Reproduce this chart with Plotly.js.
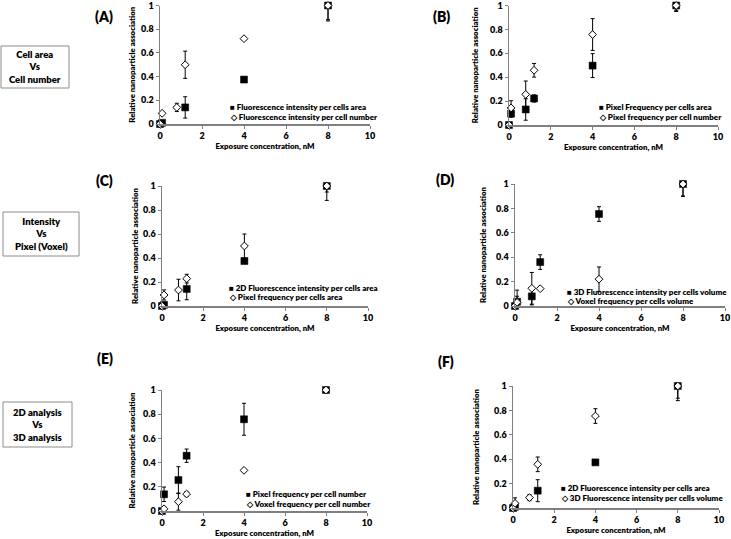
<!DOCTYPE html>
<html>
<head>
<meta charset="utf-8">
<script src="https://cdn.plot.ly/plotly-3.0.1.min.js"></script>
<style>html,body{margin:0;padding:0;background:#fff;}#chart{width:731px;height:539px;}</style>
</head>
<body>
<div id="chart"></div>
<script>
// ---------- DATA ----------
const concentration = [0, 0.1, 0.8, 1.2, 4, 8];
const xTickVals = [0, 2, 4, 6, 8, 10];
const yTickVals = [0, 0.2, 0.4, 0.6, 0.8, 1];
const panelLabels = ["(A)", "(B)", "(C)", "(D)", "(E)", "(F)"];
const rowLabels = ["Cell area<br>Vs<br>Cell number", "Intensity<br>Vs<br>Pixel (Voxel)", "2D analysis<br>Vs<br>3D analysis"];
const xTitle = "Exposure concentration, nM";
const yTitle = "Relative nanoparticle association";

// Panel A
const aSquareName = "Fluorescence intensity per cells area";
const aSquare = [0, 0.01, null, 0.14, 0.375, 1];
const aSquareErrUp = [0, 0, 0, 0.09, 0.01, 0];
const aSquareErrDown = [0, 0, 0, 0.09, 0.01, 0.13];
const aDiamondName = "Fluorescence intensity per cell number";
const aDiamond = [0, 0.09, 0.14, 0.5, 0.72, 1];
const aDiamondErrUp = [0, 0.01, 0.035, 0.115, 0.01, 0];
const aDiamondErrDown = [0, 0.01, 0.035, 0.115, 0.01, 0.12];

// Panel B
const bSquareName = "Pixel Frequency per cells area";
const bSquare = [0, 0.095, 0.13, 0.222, 0.497, 1];
const bSquareErrUp = [0, 0.03, 0.09, 0.03, 0.1, 0];
const bSquareErrDown = [0, 0.03, 0.09, 0.03, 0.1, 0.05];
const bDiamondName = "Pixel frequency per cell number";
const bDiamond = [0, 0.143, 0.256, 0.458, 0.757, 1];
const bDiamondErrUp = [0, 0.06, 0.112, 0.057, 0.133, 0];
const bDiamondErrDown = [0, 0.06, 0.112, 0.057, 0.133, 0.04];

// Panel C
const cSquareName = "2D Fluorescence intensity per cells area";
const cSquare = [0, 0.01, null, 0.142, 0.375, 1];
const cSquareErrUp = [0, 0, 0, 0.09, 0.01, 0];
const cSquareErrDown = [0, 0, 0, 0.09, 0.01, 0.12];
const cDiamondName = "Pixel frequency per cells area";
const cDiamond = [0, 0.092, 0.133, 0.228, 0.5, 1];
const cDiamondErrUp = [0, 0.042, 0.09, 0.036, 0.1, 0];
const cDiamondErrDown = [0, 0.042, 0.09, 0.036, 0.1, 0.05];

// Panel D
const dSquareName = "3D Fluorescence intensity per cells volume";
const dSquare = [0, 0.035, 0.079, 0.36, 0.754, 1];
const dSquareErrUp = [0, 0.045, 0.07, 0.06, 0.06, 0];
const dSquareErrDown = [0, 0.035, 0.07, 0.06, 0.06, 0.1];
const dDiamondName = "Voxel frequency per cells volume";
const dDiamond = [0, 0.03, 0.145, 0.142, 0.22, 1];
const dDiamondErrUp = [0, 0.1, 0.13, 0.005, 0.1, 0];
const dDiamondErrDown = [0, 0.03, 0.13, 0.005, 0.1, 0.1];

// Panel E
const eSquareName = "Pixel frequency per cell number";
const eSquare = [0, 0.138, 0.256, 0.457, 0.758, 1];
const eSquareErrUp = [0, 0.06, 0.11, 0.055, 0.132, 0];
const eSquareErrDown = [0, 0.06, 0.11, 0.055, 0.132, 0.02];
const eDiamondName = "Voxel frequency per cell number";
const eDiamond = [0, 0.018, 0.077, 0.14, 0.336, 1];
const eDiamondErrUp = [0, 0.005, 0.07, 0.02, 0.005, 0];
const eDiamondErrDown = [0, 0.005, 0.07, 0.02, 0.005, 0.02];

// Panel F
const fSquareName = "2D Fluorescence intensity per cells area";
const fSquare = [0, 0.01, null, 0.142, 0.374, 1];
const fSquareErrUp = [0, 0, 0, 0.09, 0.01, 0];
const fSquareErrDown = [0, 0, 0, 0.09, 0.01, 0.12];
const fDiamondName = "3D Fluorescence intensity per cells volume";
const fDiamond = [0, 0.038, 0.085, 0.358, 0.754, 1];
const fDiamondErrUp = [0, 0.045, 0.025, 0.06, 0.06, 0];
const fDiamondErrDown = [0, 0.038, 0.025, 0.06, 0.06, 0.1];

// ---------- LAYOUT HELPERS ----------
const W = 731, H = 539;
const px = v => v / W;
const py = v => 1 - v / H;
const FONT = "Lato, Liberation Sans, Arial, sans-serif";
const WEIGHT = 800;

const panels = [
  {sq: aSquare, sqU: aSquareErrUp, sqD: aSquareErrDown, sqN: aSquareName,
   di: aDiamond, diU: aDiamondErrUp, diD: aDiamondErrDown, diN: aDiamondName,
   box: [160, 370, 5.5, 124], ytStand: 4, xtStand: 0, leg: [228, 107, 117], lab: [104, 17]},
  {sq: bSquare, sqU: bSquareErrUp, sqD: bSquareErrDown, sqN: bSquareName,
   di: bDiamond, diU: bDiamondErrUp, diD: bDiamondErrDown, diN: bDiamondName,
   box: [509, 718, 5.5, 125], ytStand: 10, xtStand: 1, leg: [597, 107, 117], lab: [441, 17]},
  {sq: cSquare, sqU: cSquareErrUp, sqD: cSquareErrDown, sqN: cSquareName,
   di: cDiamond, diU: cDiamondErrUp, diD: cDiamondErrDown, diN: cDiamondName,
   box: [162, 368, 186, 306], ytStand: 3, xtStand: 2, leg: [227, 288, 297], lab: [104, 181]},
  {sq: dSquare, sqU: dSquareErrUp, sqD: dSquareErrDown, sqN: dSquareName,
   di: dDiamond, diU: dDiamondErrUp, diD: dDiamondErrDown, diN: dDiamondName,
   box: [515, 725, 184, 306], ytStand: 8, xtStand: 3, leg: [565, 292, 301], lab: [445, 179]},
  {sq: eSquare, sqU: eSquareErrUp, sqD: eSquareErrDown, sqN: eSquareName,
   di: eDiamond, diU: eDiamondErrUp, diD: eDiamondErrDown, diN: eDiamondName,
   box: [162, 367, 390, 511], ytStand: 6, xtStand: 3, leg: [244, 494, 504], lab: [105, 358]},
  {sq: fSquare, sqU: fSquareErrUp, sqD: fSquareErrDown, sqN: fSquareName,
   di: fDiamond, diU: fDiamondErrUp, diD: fDiamondErrDown, diN: fDiamondName,
   box: [513, 719, 386, 508], ytStand: 13, xtStand: 0, leg: [559, 488, 498], lab: [446, 361]}
];

const data = [];
const layout = {
  width: W, height: H,
  margin: {l: 0, r: 0, t: 0, b: 0},
  paper_bgcolor: "#fff", plot_bgcolor: "#fff",
  showlegend: false,
  font: {family: FONT, size: 8, color: "#000", weight: WEIGHT},
  annotations: [], shapes: []
};

panels.forEach((p, i) => {
  const n = i === 0 ? "" : String(i + 1);
  const xa = "x" + n, ya = "y" + n;
  const err = (u, d) => ({type: "data", symmetric: false, array: u, arrayminus: d,
                          color: "#000", thickness: 1, width: 2});
  data.push({
    x: concentration, y: p.sq, xaxis: xa, yaxis: ya, name: p.sqN,
    type: "scatter", mode: "markers", cliponaxis: false,
    marker: {symbol: "square", size: 7, color: "#000", line: {color: "#000", width: 0.5}},
    error_y: err(p.sqU, p.sqD)
  });
  data.push({
    x: concentration, y: p.di, xaxis: xa, yaxis: ya, name: p.diN,
    type: "scatter", mode: "markers", cliponaxis: false,
    marker: {symbol: "diamond", size: 6, color: "#fff", line: {color: "#000", width: 1}},
    error_y: err(p.diU, p.diD)
  });
  const [x0, x1, y0, y1] = p.box;
  const tickFont = {family: FONT, size: 9, weight: WEIGHT, color: "#000"};
  const titleFont = {family: FONT, size: 7.8, weight: WEIGHT, color: "#000"};
  layout["xaxis" + n] = {
    domain: [px(x0), px(x1)], anchor: ya, range: [0, 10],
    tickvals: xTickVals, ticks: "outside", ticklen: 3, tickwidth: 1, tickcolor: "#808080",
    showline: true, linecolor: "#808080", linewidth: 1.5, showgrid: false, zeroline: false,
    tickfont: tickFont, ticklabeloverflow: "allow",
    title: {text: xTitle, standoff: p.xtStand, font: titleFont},
    fixedrange: true
  };
  layout["yaxis" + n] = {
    domain: [py(y1), py(y0)], anchor: xa, range: [0, 1],
    tickvals: yTickVals, ticks: "outside", ticklen: 3, tickwidth: 1, tickcolor: "#808080",
    showline: true, linecolor: "#808080", linewidth: 1.5, showgrid: false, zeroline: false,
    tickfont: tickFont, ticklabeloverflow: "allow",
    title: {text: yTitle, standoff: p.ytStand, font: titleFont},
    fixedrange: true
  };
  // legend (Excel-style compact legend as text rows)
  const legFont = {family: FONT, size: 8, weight: WEIGHT, color: "#000"};
  layout.annotations.push({
    xref: "paper", yref: "paper", x: px(p.leg[0]), y: py(p.leg[1]), xanchor: "left", yanchor: "middle",
    showarrow: false, text: "■ " + p.sqN, font: legFont
  });
  layout.annotations.push({
    xref: "paper", yref: "paper", x: px(p.leg[0]), y: py(p.leg[2]), xanchor: "left", yanchor: "middle",
    showarrow: false, text: "◇ " + p.diN, font: legFont
  });
  // panel label
  layout.annotations.push({
    xref: "paper", yref: "paper", x: px(p.lab[0]), y: py(p.lab[1]), xanchor: "center", yanchor: "middle",
    showarrow: false, text: panelLabels[i], font: {family: FONT, size: 14, weight: WEIGHT, color: "#000"}
  });
});

// row label boxes
const rowBoxes = [[1, 69, 46, 88], [3, 79, 212, 256], [3, 72, 402, 447]];
rowBoxes.forEach((b, i) => {
  layout.shapes.push({type: "rect", xref: "paper", yref: "paper",
    x0: px(b[0]), x1: px(b[1]), y0: py(b[3]), y1: py(b[2]),
    line: {color: "#8c8c8c", width: 1}, fillcolor: "#fff", layer: "below"});
  layout.annotations.push({
    xref: "paper", yref: "paper", x: px((b[0] + b[1]) / 2), y: py((b[2] + b[3]) / 2),
    xanchor: "center", yanchor: "middle", showarrow: false, align: "center",
    text: rowLabels[i], font: {family: FONT, size: 9.5, weight: WEIGHT, color: "#000"}
  });
});

Plotly.newPlot("chart", data, layout, {staticPlot: true, displayModeBar: false});
</script>
</body>
</html>
